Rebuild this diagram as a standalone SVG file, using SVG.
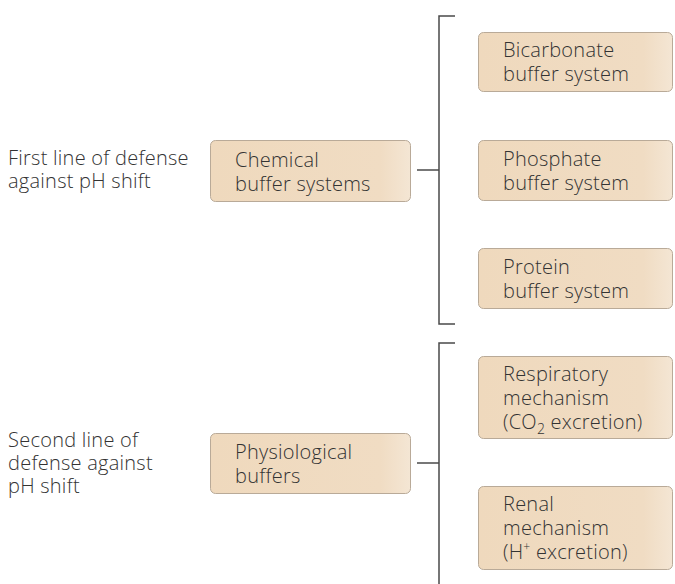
<svg xmlns="http://www.w3.org/2000/svg" width="675" height="584" viewBox="0 0 675 584">
<defs>
<linearGradient id="boxg" x1="0" y1="0" x2="1" y2="0">
<stop offset="0" stop-color="#efd9bd"/>
<stop offset="0.85" stop-color="#f0dcc3"/>
<stop offset="1" stop-color="#f4e6d4"/>
</linearGradient>
</defs>
<style>
.box{fill:url(#boxg);stroke:#b9aa98;stroke-width:1}
.t,.lbl{font-family:"Open Sans","Liberation Sans",sans-serif;font-size:20px;letter-spacing:0.25px;fill:#333333;font-weight:300}
.c{stroke:#4a4a4a;stroke-width:1.5;fill:none}
</style>
<rect width="675" height="584" fill="#ffffff"/>
<g id="connectors">
<path class="c" d="M455,16 H439 V324 H455"/>
<path class="c" d="M417,170 H439"/>
<path class="c" d="M455,343 H439 V584"/>
<path class="c" d="M417,463 H439"/>
</g>
<g id="label-first">
<text class="lbl" x="8" y="165">First line of defense</text>
<text class="lbl" x="8" y="188">against pH shift</text>
</g>
<g id="label-second">
<text class="lbl" x="8" y="447">Second line of</text>
<text class="lbl" x="8" y="470">defense against</text>
<text class="lbl" x="8" y="493">pH shift</text>
</g>
<g id="chemical">
<rect class="box" x="210.5" y="140.5" width="200" height="61" rx="5"/>
<text class="t" x="235" y="167">Chemical</text>
<text class="t" x="235" y="191">buffer systems</text>
</g>
<g id="bicarbonate">
<rect class="box" x="478.5" y="32.5" width="194" height="59" rx="5"/>
<text class="t" x="503" y="57">Bicarbonate</text>
<text class="t" x="503" y="81">buffer system</text>
</g>
<g id="phosphate">
<rect class="box" x="478.5" y="140.5" width="194" height="60" rx="5"/>
<text class="t" x="503" y="166">Phosphate</text>
<text class="t" x="503" y="190">buffer system</text>
</g>
<g id="protein">
<rect class="box" x="478.5" y="248.5" width="194" height="60" rx="5"/>
<text class="t" x="503" y="274">Protein</text>
<text class="t" x="503" y="298">buffer system</text>
</g>
<g id="physiological">
<rect class="box" x="210.5" y="433.5" width="200" height="60" rx="5"/>
<text class="t" x="235" y="459">Physiological</text>
<text class="t" x="235" y="483">buffers</text>
</g>
<g id="respiratory">
<rect class="box" x="478.5" y="356.5" width="194" height="82" rx="5"/>
<text class="t" x="503" y="381">Respiratory</text>
<text class="t" x="503" y="405">mechanism</text>
<text class="t" x="503" y="429">(CO<tspan font-size="14" dy="5">2</tspan><tspan dy="-5"> excretion)</tspan></text>
</g>
<g id="renal">
<rect class="box" x="478.5" y="486.5" width="194" height="83" rx="5"/>
<text class="t" x="503" y="511">Renal</text>
<text class="t" x="503" y="535">mechanism</text>
<text class="t" x="503" y="559">(H<tspan font-size="12" dy="-8">+</tspan><tspan dy="8"> excretion)</tspan></text>
</g>
</svg>
